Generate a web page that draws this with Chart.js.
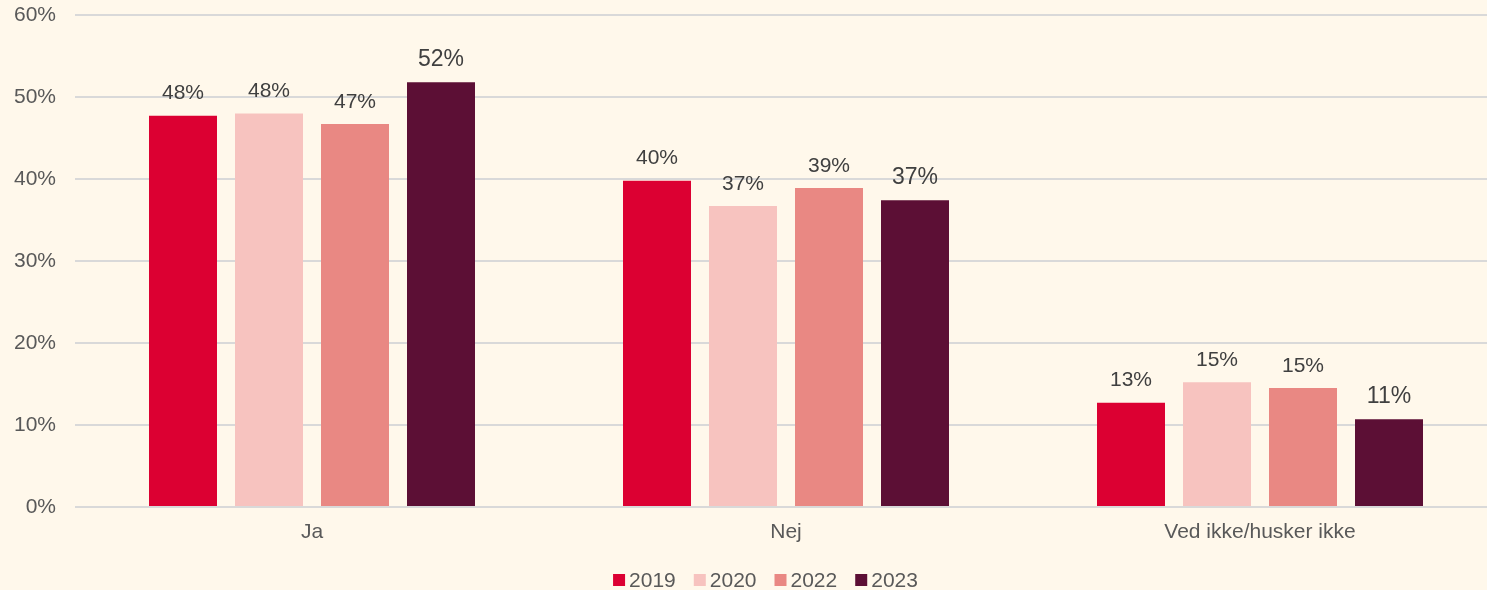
<!DOCTYPE html>
<html>
<head>
<meta charset="utf-8">
<script src="https://cdn.jsdelivr.net/npm/chart.js@4"></script>
<style>
  html, body { margin: 0; padding: 0; background: #FFF8EB; overflow: hidden; width: 1487px; height: 590px; }
  #wrap { width: 1497px; height: 590px; }
</style>
</head>
<body>
<div id="wrap"><canvas id="c" width="1497" height="590"></canvas></div>
<script>
const categories = ["Ja", "Nej", "Ved ikke/husker ikke"];
const years = ["2019", "2020", "2022", "2023"];
const values2019 = [47.7, 39.8, 12.7];
const values2020 = [48.0, 36.7, 15.2];
const values2022 = [46.7, 38.9, 14.5];
const values2023 = [51.8, 37.4, 10.7];
const seriesColors = ["#DC0032", "#F7C3BF", "#E98883", "#5C0F35"];
const yTicks = [0, 10, 20, 30, 40, 50, 60];

const FONT = "'Liberation Sans', Arial, sans-serif";

const dataLabels = {
  id: 'dataLabels',
  afterDatasetsDraw(chart) {
    const ctx = chart.ctx;
    ctx.save();
    ctx.fillStyle = '#404040';
    ctx.textAlign = 'center';
    ctx.textBaseline = 'alphabetic';
    chart.data.datasets.forEach((ds, di) => {
      const meta = chart.getDatasetMeta(di);
      const size = di === 3 ? 23 : 21;
      ctx.font = size + 'px ' + FONT;
      meta.data.forEach((bar, i) => {
        const v = ds.data[i];
        ctx.fillText(Math.round(v) + '%', bar.x, bar.y - 16.5);
      });
    });
    ctx.restore();
  }
};

const customLegend = {
  id: 'customLegend',
  afterDraw(chart) {
    const ctx = chart.ctx;
    ctx.save();
    ctx.font = '21px ' + FONT;
    ctx.textBaseline = 'middle';
    const box = 12, gapText = 4, gapItem = 18;
    const items = chart.data.datasets.map(ds => ({ label: ds.label, color: ds.backgroundColor, w: ctx.measureText(ds.label).width }));
    let total = 0;
    items.forEach((it, i) => { total += box + gapText + it.w + (i < items.length - 1 ? gapItem : 0); });
    const cx = 765.5, cy = 580;
    let x = cx - total / 2;
    items.forEach(it => {
      ctx.fillStyle = it.color;
      ctx.fillRect(x, cy - box / 2, box, box);
      x += box + gapText;
      ctx.fillStyle = '#595959';
      ctx.textAlign = 'left';
      ctx.fillText(it.label, x, cy + 1);
      x += it.w + gapItem;
    });
    ctx.restore();
  }
};

const allValues = [values2019, values2020, values2022, values2023];

new Chart(document.getElementById('c'), {
  type: 'bar',
  data: {
    labels: categories,
    datasets: years.map((y, i) => ({
      label: y,
      data: allValues[i],
      backgroundColor: seriesColors[i],
      borderWidth: 0,
      barPercentage: 68 / 86,
      categoryPercentage: 344 / 474
    }))
  },
  options: {
    responsive: false,
    animation: false,
    devicePixelRatio: 1,
    layout: { padding: { top: 15, left: 0, right: 0, bottom: 0 } },
    plugins: {
      legend: { display: false },
      tooltip: { enabled: false }
    },
    scales: {
      x: {
        grid: { display: false, drawTicks: false },
        border: { display: false },
        ticks: { color: '#595959', font: { family: FONT, size: 21 }, padding: 13 },
        afterFit(scale) { scale.height = 83; scale.paddingLeft = 0; scale.paddingRight = 0; }
      },
      y: {
        min: yTicks[0],
        max: yTicks[yTicks.length - 1],
        afterBuildTicks(scale) { scale.ticks = yTicks.map(v => ({ value: v })); },
        grid: { color: '#D9D9D9', lineWidth: 2, drawTicks: false },
        border: { display: false },
        ticks: { color: '#595959', font: { family: FONT, size: 21 }, padding: 19, callback: v => v + '%' },
        afterFit(scale) { scale.width = 75; scale.paddingTop = 0; scale.paddingBottom = 0; }
      }
    }
  },
  plugins: [dataLabels, customLegend]
});
</script>
</body>
</html>
